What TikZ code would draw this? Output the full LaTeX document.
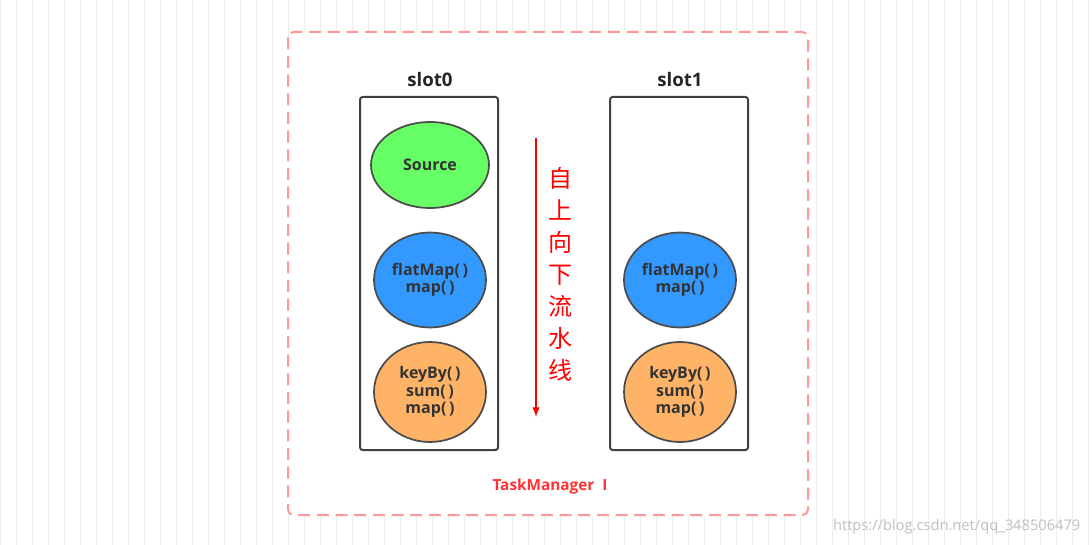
\documentclass[tikz,border=0pt]{standalone}
\usetikzlibrary{shapes.geometric}
\usepackage{fontspec}
\setmainfont{Open Sans}
\newfontfamily\cjk{Noto Sans CJK SC}
\begin{document}
\begin{tikzpicture}[x=0.75pt,y=-0.75pt,
  slot/.style={draw=black!75,line width=1.5pt,rounded corners=2pt},
  op/.style={ellipse,draw=black!70,line width=1.3pt,inner sep=0pt,font=\bfseries\fontsize{12}{13}\selectfont,text=black!80,align=center},
  lbl/.style={font=\bfseries\fontsize{14}{16}\selectfont,text=black!85}]
\useasboundingbox (0,0) rectangle (1092,545);
\fill[white] (0,0) rectangle (1092,545);
\draw[black!7,line width=0.6pt] (0,0) grid[step=16] (1092,545);
\fill[white,rounded corners=4pt] (288,32) rectangle (808,515);
\draw[color={rgb,255:red,255;green,153;blue,153},line width=1.5pt,dash pattern=on 9pt off 5pt,rounded corners=4pt] (288,32) rectangle (808,515);
\foreach \x/\n in {430/0,680/1}{
  \draw[slot] (\x-70,97) rectangle (\x+68,450);
  \node[lbl] (s\n) at (\x,80) {slot\n};
  \node[op,fill={rgb,255:red,51;green,153;blue,255},minimum width=112pt*0.75,minimum height=95pt*0.75] (f\n) at (\x,280) {flatMap(\,)\\map(\,)};
  \node[op,fill={rgb,255:red,255;green,179;blue,102},minimum width=112pt*0.75,minimum height=100pt*0.75] (k\n) at (\x,392) {keyBy(\,)\\sum(\,)\\map(\,)};
}
\node[op,fill={rgb,255:red,102;green,255;blue,102},minimum width=118pt*0.75,minimum height=86pt*0.75] (src) at (430,165) {Source};
\coordinate (a1) at (536,138);
\coordinate (a2) at (536,417);
\draw[red,line width=1.5pt,-latex] (a1) -- (a2);
\node[text=red,font=\cjk\fontsize{18}{24}\selectfont,align=center] (t) at (560,274) {自\\上\\向\\下\\流\\水\\线};
\node[text={rgb,255:red,255;green,51;blue,51},font=\bfseries\fontsize{11.5}{13}\selectfont] (tm) at (550,487) {TaskManager\ \ I};
\node[text=black!25,font=\fontsize{11}{12}\selectfont,anchor=east] (wm) at (1085,527) {https://blog.csdn.net/qq\_348506479};
\end{tikzpicture}
\end{document}
